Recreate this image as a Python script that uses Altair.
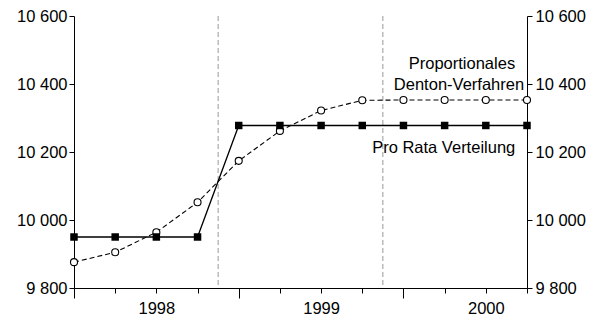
import altair as alt
import pandas as pd

# ---- data ----
quarters = list(range(12))  # 1998Q1 .. 2000Q4
pro_rata = [9950, 9950, 9950, 9950, 10278, 10278, 10278, 10278, 10278, 10278, 10278, 10278]
denton = [9876, 9905, 9964, 10052, 10174, 10262, 10322, 10352, 10353, 10353, 10353, 10353]
years = ["1998", "1999", "2000"]
year_bounds = [3.5, 7.5]
y_ticks = [9800, 10000, 10200, 10400, 10600]

label_text = ["Proportionales", "Denton-Verfahren", "Pro Rata Verteilung"]
label_q = [9.42, 10.93, 7.24]
label_v = [10444, 10382, 10197]

FONT = "Liberation Sans"
FS = 16.5

df_d = pd.DataFrame({"q": quarters, "v": denton})
df_p = pd.DataFrame({"q": quarters, "v": pro_rata})
df_b = pd.DataFrame({"b": year_bounds})
df_l = pd.DataFrame({"t": label_text, "q": label_q, "v": label_v})

xscale = alt.Scale(domain=[0, 11], nice=False, zero=False)
yscale = alt.Scale(domain=[9800, 10600], nice=False, zero=False)

year_expr = "datum.value === 2 ? '%s' : datum.value === 6 ? '%s' : datum.value === 10 ? '%s' : ''" % tuple(years)

xaxis = alt.Axis(
    values=quarters, title=None, grid=False,
    tickSize={"condition": {"test": "datum.value % 4 === 0", "value": 10}, "value": 5},
    labelExpr=year_expr, labelPadding=7, labelAngle=0, labelOverlap=False, labelFlush=False,
    labelFont=FONT, labelFontSize=FS, labelColor="black",
    domainColor="black", tickColor="black", domainWidth=1, tickWidth=1,
)

num_expr = "replace(format(datum.value, ','), ',', ' ')"

def yaxis(orient, pad):
    return alt.Axis(
        orient=orient, values=y_ticks, title=None, grid=False, tickSize=5,
        labelExpr=num_expr, labelPadding=pad, labelFont=FONT, labelFontSize=FS,
        labelColor="black", domainColor="black", tickColor="black",
        labelFlush=False, labelOverlap=False,
    )

X = alt.X("q:Q", scale=xscale, axis=xaxis)

rules = alt.Chart(df_b).mark_rule(color="#999999", strokeDash=[5, 3], strokeWidth=1).encode(
    x=alt.X("b:Q", scale=xscale, axis=xaxis)
)

d_line = alt.Chart(df_d).mark_line(color="black", strokeWidth=1.1, strokeDash=[5, 3]).encode(
    x=X, y=alt.Y("v:Q", scale=yscale, axis=yaxis("left", 2))
)
d_pts = alt.Chart(df_d).mark_point(shape="circle", size=49, filled=True, fill="white",
                                   stroke="black", strokeWidth=1.1, opacity=1).encode(
    x=X, y=alt.Y("v:Q", scale=yscale, axis=None)
)
p_line = alt.Chart(df_p).mark_line(color="black", strokeWidth=1.3).encode(
    x=X, y=alt.Y("v:Q", scale=yscale, axis=yaxis("right", 3))
)
p_pts = alt.Chart(df_p).mark_point(shape="square", size=56, filled=True, color="black", opacity=1).encode(
    x=X, y=alt.Y("v:Q", scale=yscale, axis=None)
)

lab_common = dict(font=FONT, fontSize=FS, color="black", baseline="alphabetic")
labels = alt.layer(
    alt.Chart(df_l.iloc[[0]]).mark_text(align="center", **lab_common).encode(
        x=X, y=alt.Y("v:Q", scale=yscale, axis=None), text="t:N"),
    alt.Chart(df_l.iloc[[1]]).mark_text(align="right", **lab_common).encode(
        x=X, y=alt.Y("v:Q", scale=yscale, axis=None), text="t:N"),
    alt.Chart(df_l.iloc[[2]]).mark_text(align="left", **lab_common).encode(
        x=X, y=alt.Y("v:Q", scale=yscale, axis=None), text="t:N"),
)

chart = alt.layer(rules, d_line, d_pts, p_line, p_pts, labels).resolve_axis(
    y="independent"
).properties(
    width=453, height=272,
    autosize=alt.AutoSizeParams(type="none"),
    padding={"left": 66, "top": 8, "right": 60, "bottom": 30},
    background="white",
).configure_view(stroke=None)

chart.save("out.html", embed_options={"renderer": "svg", "actions": False})
